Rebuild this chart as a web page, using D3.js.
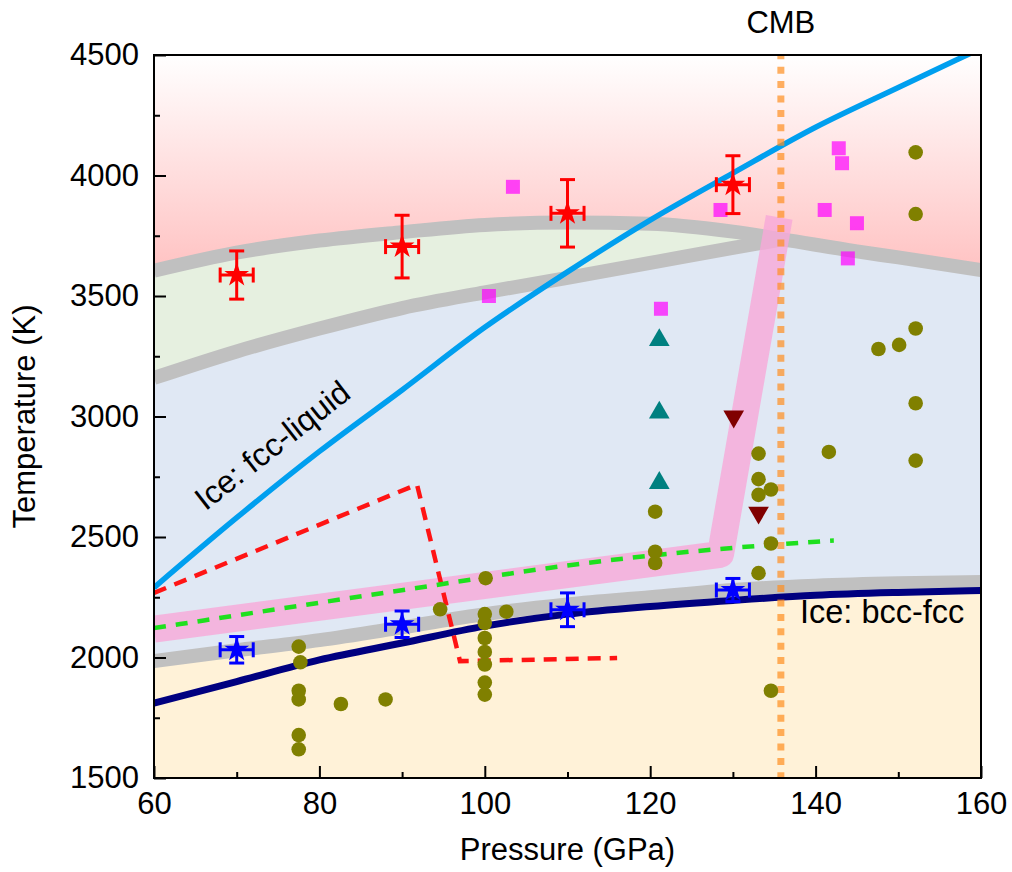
<!DOCTYPE html>
<html>
<head>
<meta charset="utf-8">
<script src="https://cdn.jsdelivr.net/npm/d3@7"></script>
<style>
body { margin: 0; background: #fff; }
text { font-family: "Liberation Sans", Arial, sans-serif; fill: #000; }
</style>
</head>
<body>
<div class="container"></div>
<script>
var WIDTH = 1012,
	HEIGHT = 872,
	LEFT = 154,
	RIGHT = 981,
	TOP = 55,
	BOTTOM = 778;

// axes
var xMajor = [60, 80, 100, 120, 140, 160],
	xMinor = [70, 90, 110, 130, 150],
	yMajor = [1500, 2000, 2500, 3000, 3500, 4000, 4500],
	yMinor = [1750, 2250, 2750, 3250, 3750, 4250];

// phase boundaries (P in GPa, T in K)
var liquidUpper = [[60,3605],[70,3680],[80,3730],[90,3765],[100,3795],[110,3805],[120,3800],[130,3767],[136,3735],[145,3685],[150,3660],[160,3608]];
var liquidLower = [[60,3160],[70,3270],[80,3365],[90,3450],[100,3515],[110,3575],[120,3637],[130,3700],[136,3735]];
var bccFccGray = [[60,1985],[70,2030],[80,2072],[90,2125],[100,2180],[110,2220],[120,2250],[130,2280],[140,2298],[150,2308],[160,2313]];
var bccFccIce = [[60,1811],[70,1900],[80,1990],[90,2060],[100,2130],[110,2180],[120,2212],[130,2237],[140,2258],[150,2270],[160,2278]];
var fccLiquidIce = [[60,2290],[70,2580],[80,2855],[90,3110],[100,3370],[110,3600],[120,3815],[130,4010],[140,4200],[150,4365],[158.3,4500],[162,4560]];
var pinkBand = [[60,2118],[128.5,2428],[135.6,3826]];
var greenDash = [[60,2122],[93,2295],[110,2382],[127,2446],[142.2,2485]];
var redDash = [[60,2268],[91.8,2718],[97,1985],[116,1998]];
var cmbP = 135.8;

// measurements
var liqStarP = [70, 90, 110, 130],
	liqStarT = [3587, 3705, 3843, 3962],
	liqStarErrT = [100, 130, 140, 120];
var fccStarP = [70, 90, 110, 130],
	fccStarT = [2032, 2138, 2198, 2280],
	fccStarErrT = [55, 55, 70, 48];
var starErrP = 2;

var squareP = [100.5, 103.4, 121.3, 128.5, 141.1, 142.8, 143.2, 145.0, 143.9],
	squareT = [3500, 3953, 3447, 3857, 3857, 4113, 4051, 3802, 3656];
var upTriP = [121.1, 121.1, 121.1],
	upTriT = [3317, 3016, 2724];
var downTriP = [130.1, 133.1],
	downTriT = [3000, 2601];
var circleP = [77.5, 77.7, 77.5, 77.5, 77.5, 77.5, 82.6, 88.0, 94.6,
	100.1, 100, 100, 100, 100, 100, 100, 100, 102.6,
	120.6, 120.6, 120.6, 133.1, 133.1, 133.1, 134.6, 134.6, 133.1, 134.6,
	141.6, 147.6, 150.1, 152.1, 152.1, 152.1, 152.1, 152.1];
var circleT = [2045, 1980, 1862, 1826, 1678, 1619, 1807, 1826, 2200,
	2329, 2180, 2143, 2081, 2023, 1971, 1896, 1846, 2190,
	2605, 2439, 2392, 2846, 2740, 2675, 2697, 2473, 2350, 1862,
	2853, 3280, 3297, 3365, 3055, 2817, 4096, 3840];

function translate(x, y) {
	return 'translate(' + x + ',' + y + ')';
}

var x = d3.scaleLinear().domain([60, 160]).range([LEFT, RIGHT]);
var y = d3.scaleLinear().domain([1500, 4500]).range([BOTTOM, TOP]);

var svg = d3.select('.container').append('svg')
	.attr('width', WIDTH)
	.attr('height', HEIGHT);

var defs = svg.append('defs');
var grad = defs.append('linearGradient')
	.attr('id', 'liqGrad')
	.attr('gradientUnits', 'userSpaceOnUse')
	.attr('x1', 0).attr('x2', 0)
	.attr('y1', y(4500)).attr('y2', y(3600));
grad.append('stop').attr('offset', 0).attr('stop-color', '#ffffff');
grad.append('stop').attr('offset', 1).attr('stop-color', '#ffc2c2');

defs.append('clipPath').attr('id', 'clip')
	.append('rect')
	.attr('x', LEFT).attr('y', TOP)
	.attr('width', RIGHT - LEFT).attr('height', BOTTOM - TOP);

var plot = svg.append('g').attr('clip-path', 'url(#clip)');

var line = d3.line()
	.curve(d3.curveMonotoneX)
	.x(function(d) { return x(d[0]); })
	.y(function(d) { return y(d[1]); });

var straight = d3.line()
	.x(function(d) { return x(d[0]); })
	.y(function(d) { return y(d[1]); });

// background regions
plot.append('rect')
	.attr('x', LEFT).attr('y', TOP)
	.attr('width', RIGHT - LEFT).attr('height', BOTTOM - TOP)
	.attr('fill', 'url(#liqGrad)');

var solidTop = liquidLower.concat(liquidUpper.filter(function(d) { return d[0] > 136; }));
plot.append('path')
	.datum(solidTop)
	.attr('fill', '#e0e8f4')
	.attr('d', d3.area()
		.curve(d3.curveMonotoneX)
		.x(function(d) { return x(d[0]); })
		.y0(y(1500))
		.y1(function(d) { return y(d[1]); }));

plot.append('path')
	.datum(liquidLower)
	.attr('fill', '#e6f0e0')
	.attr('d', d3.area()
		.curve(d3.curveMonotoneX)
		.x(function(d) { return x(d[0]); })
		.y0(function(d) { return y(d[1]); })
		.y1(function(d, i) { return y(liquidUpper[i][1]); }));

plot.append('path')
	.datum(bccFccGray)
	.attr('fill', '#fff2d8')
	.attr('d', d3.area()
		.curve(d3.curveMonotoneX)
		.x(function(d) { return x(d[0]); })
		.y0(y(1500))
		.y1(function(d) { return y(d[1]); }));

// gray boundary bands
[liquidUpper, liquidLower, bccFccGray].forEach(function(c) {
	plot.append('path')
		.datum(c)
		.attr('fill', 'none')
		.attr('stroke', '#c0c0c0')
		.attr('stroke-width', 14)
		.attr('d', line);
});

// pink band
plot.append('path')
	.datum(pinkBand)
	.attr('fill', 'none')
	.attr('stroke', '#f7a8d8')
	.attr('stroke-opacity', 0.8)
	.attr('stroke-width', 27)
	.attr('stroke-linejoin', 'round')
	.attr('d', straight);

// ice bcc-fcc
plot.append('path')
	.datum(bccFccIce)
	.attr('fill', 'none')
	.attr('stroke', '#000080')
	.attr('stroke-width', 7)
	.attr('d', line);

// ice fcc-liquid
plot.append('path')
	.datum(fccLiquidIce)
	.attr('fill', 'none')
	.attr('stroke', '#009fef')
	.attr('stroke-width', 5.5)
	.attr('d', line);

plot.append('path')
	.datum(redDash)
	.attr('fill', 'none')
	.attr('stroke', '#ff1414')
	.attr('stroke-width', 4.5)
	.attr('stroke-dasharray', '13,9')
	.attr('d', straight);

plot.append('path')
	.datum(greenDash)
	.attr('fill', 'none')
	.attr('stroke', '#1ee01e')
	.attr('stroke-width', 4.5)
	.attr('stroke-dasharray', '12,10')
	.attr('d', line);

// CMB
plot.append('line')
	.attr('x1', x(cmbP)).attr('x2', x(cmbP))
	.attr('y1', TOP).attr('y2', BOTTOM)
	.attr('stroke', '#ff8f1f')
	.attr('stroke-opacity', 0.7)
	.attr('stroke-width', 7)
	.attr('stroke-dasharray', '7,7.4')
	.attr('stroke-dashoffset', 2.7);

// markers
var circles = circleP.map(function(p, i) { return [p, circleT[i]]; });
plot.selectAll('.olive')
	.data(circles).enter()
	.append('circle')
	.attr('class', 'olive')
	.attr('cx', function(d) { return x(d[0]); })
	.attr('cy', function(d) { return y(d[1]); })
	.attr('r', 7.3)
	.attr('fill', '#808000');

var squares = squareP.map(function(p, i) { return [p, squareT[i]]; });
plot.selectAll('.sq')
	.data(squares).enter()
	.append('rect')
	.attr('class', 'sq')
	.attr('x', function(d) { return x(d[0]) - 7; })
	.attr('y', function(d) { return y(d[1]) - 7; })
	.attr('width', 14).attr('height', 14)
	.attr('fill', '#ff00ff')
	.attr('fill-opacity', 0.7);

var tri = d3.symbol().type(d3.symbolTriangle).size(185);
plot.selectAll('.up')
	.data(upTriP.map(function(p, i) { return [p, upTriT[i]]; })).enter()
	.append('path')
	.attr('class', 'up')
	.attr('transform', function(d) { return translate(x(d[0]), y(d[1])); })
	.attr('d', tri)
	.attr('fill', '#008080');

plot.selectAll('.down')
	.data(downTriP.map(function(p, i) { return [p, downTriT[i]]; })).enter()
	.append('path')
	.attr('class', 'down')
	.attr('transform', function(d) { return translate(x(d[0]), y(d[1])) + ' rotate(180)'; })
	.attr('d', tri)
	.attr('fill', '#800000');

function drawStars(P, T, errT, color) {
	var data = P.map(function(p, i) { return {p: p, t: T[i], e: errT[i]}; });
	var g = plot.append('g')
		.attr('stroke', color)
		.attr('stroke-width', 3);
	var cap = 7.5;
	data.forEach(function(d) {
		var cx = x(d.p), cy = y(d.t),
			ya = y(d.t + d.e), yb = y(d.t - d.e),
			xa = x(d.p - starErrP), xb = x(d.p + starErrP);
		g.append('line').attr('x1', cx).attr('x2', cx).attr('y1', ya).attr('y2', yb);
		g.append('line').attr('x1', cx - cap).attr('x2', cx + cap).attr('y1', ya).attr('y2', ya);
		g.append('line').attr('x1', cx - cap).attr('x2', cx + cap).attr('y1', yb).attr('y2', yb);
		g.append('line').attr('x1', xa).attr('x2', xb).attr('y1', cy).attr('y2', cy);
		g.append('line').attr('x1', xa).attr('x2', xa).attr('y1', cy - cap).attr('y2', cy + cap);
		g.append('line').attr('x1', xb).attr('x2', xb).attr('y1', cy - cap).attr('y2', cy + cap);
	});
	plot.selectAll(null)
		.data(data).enter()
		.append('path')
		.attr('transform', function(d) { return translate(x(d.p), y(d.t)); })
		.attr('d', d3.symbol().type(d3.symbolStar).size(190))
		.attr('fill', color);
}
drawStars(liqStarP, liqStarT, liqStarErrT, '#ff0000');
drawStars(fccStarP, fccStarT, fccStarErrT, '#0000ff');

// labels
plot.append('text')
	.attr('transform', translate(279, 454) + ' rotate(-38)')
	.attr('text-anchor', 'middle')
	.attr('font-size', 32)
	.text('Ice: fcc-liquid');

plot.append('text')
	.attr('x', 800).attr('y', 623)
	.attr('font-size', 32.5)
	.text('Ice: bcc-fcc');

svg.append('text')
	.attr('x', x(cmbP)).attr('y', 33)
	.attr('text-anchor', 'middle')
	.attr('font-size', 31)
	.text('CMB');

// axes
svg.append('g')
	.attr('transform', translate(0, BOTTOM))
	.call(d3.axisBottom(x).tickValues(xMajor).tickFormat(d3.format('d')).tickSize(-12).tickPadding(14));
svg.append('g')
	.attr('transform', translate(0, BOTTOM))
	.call(d3.axisBottom(x).tickValues(xMinor).tickSize(-6).tickFormat(''));
svg.append('g')
	.attr('transform', translate(LEFT, 0))
	.call(d3.axisLeft(y).tickValues(yMajor).tickFormat(d3.format('d')).tickSize(-12).tickPadding(15));
svg.append('g')
	.attr('transform', translate(LEFT, 0))
	.call(d3.axisLeft(y).tickValues(yMinor).tickSize(-6).tickFormat(''));

svg.selectAll('.domain').remove();
svg.selectAll('.tick line').attr('stroke', '#000').attr('stroke-width', 2);
svg.selectAll('.tick text')
	.attr('font-family', '"Liberation Sans", Arial, sans-serif')
	.attr('font-size', 31)
	.attr('fill', '#000');

svg.append('rect')
	.attr('x', LEFT).attr('y', TOP)
	.attr('width', RIGHT - LEFT).attr('height', BOTTOM - TOP)
	.attr('fill', 'none')
	.attr('stroke', '#000')
	.attr('stroke-width', 2);

svg.append('text')
	.attr('x', (LEFT + RIGHT) / 2).attr('y', 860)
	.attr('text-anchor', 'middle')
	.attr('font-size', 31)
	.text('Pressure (GPa)');

svg.append('text')
	.attr('transform', translate(35, (TOP + BOTTOM) / 2) + ' rotate(-90)')
	.attr('text-anchor', 'middle')
	.attr('font-size', 31)
	.text('Temperature (K)');
</script>
</body>
</html>
